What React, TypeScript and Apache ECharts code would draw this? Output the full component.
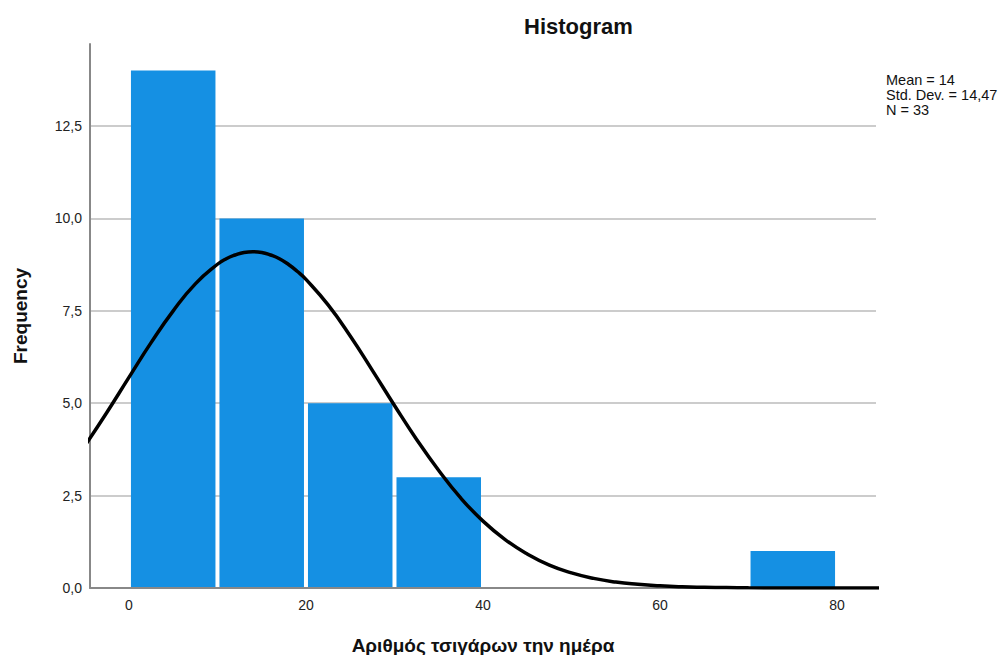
import React, { useEffect, useRef } from "react";
import * as echarts from "echarts";

// Histogram bins: [start, end, frequency]
const binStarts = [0, 10, 20, 30, 70];
const binEnds = [10, 20, 30, 40, 80];
const frequencies = [14, 10, 5, 3, 1];

// Normal curve
const curveX = [-5, -2.5, 0, 2.5, 5, 7.5, 10, 11, 12, 13, 14, 15, 16, 17, 18, 19, 20, 22.5, 25, 27.5, 30, 32.5, 35, 37.5, 40, 42.5, 45, 47.5, 50, 52.5, 55, 57.5, 60, 62.5, 65, 67.5, 70, 75, 80, 85];
const curveY = [3.84, 4.75, 5.7, 6.64, 7.5, 8.23, 8.76, 8.91, 9.01, 9.08, 9.1, 9.08, 9.01, 8.91, 8.76, 8.57, 8.35, 7.66, 6.82, 5.89, 4.94, 4.02, 3.18, 2.43, 1.81, 1.31, 0.92, 0.62, 0.41, 0.26, 0.16, 0.099, 0.058, 0.033, 0.02, 0.011, 0.005, 0.001, 0, 0];

const xTicks = [0, 20, 40, 60, 80];
const statsLines = ["Mean = 14", "Std. Dev. = 14,47", "N = 33"];
const titleText = "Histogram";
const xTitle = "Αριθμός τσιγάρων την ημέρα";
const yTitle = "Frequency";

export default function App() {
  const ref = useRef<HTMLDivElement>(null);
  useEffect(() => {
    if (!ref.current) return;
    const chart = echarts.init(ref.current, undefined, { renderer: "svg" });
    const barData = binStarts.map((s, i) => [s, binEnds[i], frequencies[i]]);
    const lineData = curveX.map((x, i) => [x, curveY[i]]);
    const font = "Arial, 'Liberation Sans', sans-serif";
    chart.setOption({
      animation: false,
      backgroundColor: "#ffffff",
      textStyle: { fontFamily: font },
      grid: { left: 90, width: 786, top: 44, height: 544, containLabel: false, outerBoundsMode: "none" },
      xAxis: {
        type: "value",
        min: -4.4,
        max: 84.4,
        splitNumber: 5,
        axisLine: { show: true, onZero: false, lineStyle: { color: "#888888", width: 2 } },
        axisTick: { show: false },
        splitLine: { show: false },
        axisLabel: {
          color: "#222",
          fontSize: 14,
          margin: 10,
          fontFamily: font,
          showMinLabel: false,
          showMaxLabel: false,
          formatter: (v: number) => (xTicks.includes(Math.round(v * 1000) / 1000) ? String(v) : ""),
        },
        name: xTitle,
        nameLocation: "middle",
        nameGap: 48,
        nameTextStyle: { fontSize: 19, fontWeight: "bold", color: "#111", fontFamily: font },
      },
      yAxis: {
        type: "value",
        min: 0,
        max: 14.72,
        interval: 2.5,
        axisLine: { show: true, onZero: false, lineStyle: { color: "#888888", width: 2 } },
        axisTick: { show: false },
        splitLine: { show: true, showMinLine: false, showMaxLine: false, lineStyle: { color: "#cccccc", width: 2 } },
        axisLabel: {
          color: "#222",
          fontSize: 14,
          margin: 8,
          fontFamily: font,
          showMaxLabel: false,
          formatter: (v: number) => v.toFixed(1).replace(".", ","),
        },
        name: yTitle,
        nameLocation: "middle",
        nameGap: 60,
        nameRotate: 90,
        nameTextStyle: { fontSize: 19, fontWeight: "bold", color: "#111", fontFamily: font },
      },
      graphic: [
        {
          type: "text",
          left: 524,
          top: 15,
          style: { text: titleText, font: `bold 22px ${font}`, fill: "#111" },
        },
        {
          type: "text",
          left: 886,
          top: 72,
          style: { text: statsLines.join("\n"), font: `14.5px ${font}`, lineHeight: 15, fill: "#111" },
        },
      ],
      series: [
        {
          type: "custom",
          data: barData,
          encode: { x: [0, 1], y: 2 },
          clip: true,
          renderItem: (params: any, api: any) => {
            const p0 = api.coord([api.value(0), api.value(2)]);
            const p1 = api.coord([api.value(1), 0]);
            return {
              type: "rect",
              shape: { x: p0[0] + 2, y: p0[1], width: p1[0] - p0[0] - 4, height: p1[1] - p0[1] - 1 },
              style: { fill: "#1590E3" },
            };
          },
          z: 2,
        },
        {
          type: "line",
          data: lineData,
          smooth: true,
          showSymbol: false,
          lineStyle: { color: "#000000", width: 3.5 },
          clip: true,
          z: 3,
        },
      ],
    });
    return () => chart.dispose();
  }, []);
  return <div ref={ref} style={{ position: "fixed", left: 0, top: 0, width: 1002, height: 655 }} />;
}
